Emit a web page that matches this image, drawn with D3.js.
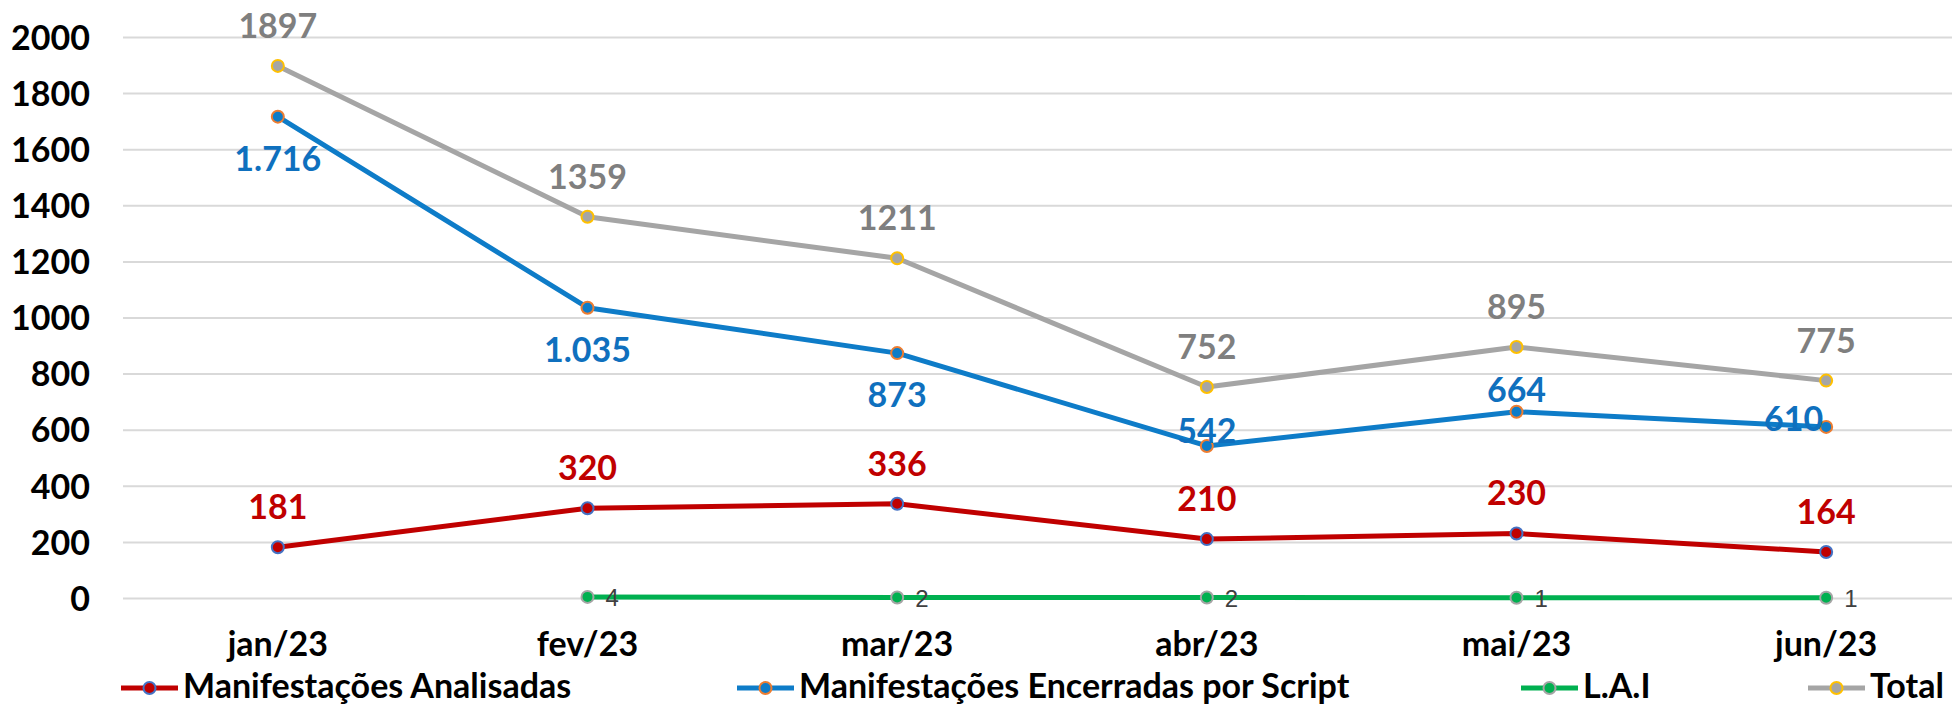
<!DOCTYPE html>
<html>
<head>
<meta charset="utf-8">
<script src="https://cdn.jsdelivr.net/npm/d3@7"></script>
<style>
  html, body { margin: 0; padding: 0; background: #fff; overflow: hidden; }
  svg { display: block; font-family: Lato, "Open Sans", sans-serif; }
</style>
</head>
<body>
<div id="chart"></div>
<script>
var months = ["jan/23", "fev/23", "mar/23", "abr/23", "mai/23", "jun/23"];
var analisadas = [181, 320, 336, 210, 230, 164];
var encerradas = [1716, 1035, 873, 542, 664, 610];
var lai = [null, 4, 2, 2, 1, 1];
var total = [1897, 1359, 1211, 752, 895, 775];
var yTicks = [0, 200, 400, 600, 800, 1000, 1200, 1400, 1600, 1800, 2000];
var legendNames = ["Manifestações Analisadas", "Manifestações Encerradas por Script", "L.A.I", "Total"];

function main() {
    var width = 1952,
      height = 705,
      fontSize = "34px";

    var svg = d3.select("#chart").append("svg").attr("width", width).attr("height", height);

    var x = d3.scaleBand().domain(months).range([123, 1981]);
    var y = d3.scaleLinear().domain([0, 2000]).range([598, 37]);
    var cx = function (i) { return x(months[i]) + x.bandwidth() / 2; };

    // gridlines + y labels
    var yAxis = d3.axisLeft(y).tickValues(yTicks).tickSize(-(width - 123)).tickPadding(33).tickFormat(d3.format("d"));
    var ga = svg.append("g").attr("transform", "translate(123,0)").call(yAxis);
    ga.select(".domain").remove();
    ga.selectAll(".tick line").attr("stroke", "#d9d9d9").attr("stroke-width", 2);
    ga.selectAll(".tick text").attr("fill", "#000").style("font-size", fontSize).style("font-weight", "bold")
      .style("font-family", "Lato").attr("dy", "0.36em");

    // x labels
    var gx = svg.append("g").attr("transform", "translate(0,598)")
      .call(d3.axisBottom(x).tickSize(0).tickPadding(0));
    gx.select(".domain").remove();
    gx.selectAll(".tick text").attr("fill", "#000").attr("y", 58).attr("dy", 0)
      .style("font-size", fontSize).style("font-weight", "bold").style("font-family", "Lato");

    var series = [
        { vals: analisadas, line: "#c00000", fill: "#c00000", ring: "#4472c4", label: "#c00000" },
        { vals: encerradas, line: "#0e7cc8", fill: "#0e7cc8", ring: "#ed7d31", label: "#0f70be" },
        { vals: lai, line: "#00b050", fill: "#00b050", ring: "#a5a5a5", label: "#404040" },
        { vals: total, line: "#a5a5a5", fill: "#a5a5a5", ring: "#ffc000", label: "#7f7f7f" }
    ];

    var line = d3.line()
      .defined(function (d) { return d != null; })
      .x(function (d, i) { return cx(i); })
      .y(function (d) { return y(d); });

    // draw order: total, encerradas, analisadas, lai
    [3, 1, 0, 2].forEach(function (k) {
        var s = series[k];
        var g = svg.append("g");
        g.append("path").datum(s.vals).attr("d", line)
          .attr("fill", "none").attr("stroke", s.line).attr("stroke-width", 5)
          .attr("stroke-linejoin", "round");
        g.selectAll("circle").data(s.vals.map(function (v, i) { return { v: v, i: i }; }).filter(function (d) { return d.v != null; }))
          .enter().append("circle")
          .attr("cx", function (d) { return cx(d.i); })
          .attr("cy", function (d) { return y(d.v); })
          .attr("r", 6)
          .attr("fill", s.fill).attr("stroke", s.ring).attr("stroke-width", 2);
    });

    // data labels
    var fmtBlue = function (v) { return v >= 1000 ? d3.format(",")(v).replace(",", ".") : String(v); };
    var blueSpot = ["below", "below", "below", "on", "near", "left"];

    function addLabels(s, fmt, place) {
        svg.append("g").selectAll("text")
          .data(s.vals.map(function (v, i) { return { v: v, i: i }; }).filter(function (d) { return d.v != null; }))
          .enter().append("text")
          .attr("fill", s.label)
          .style("font-size", fontSize).style("font-weight", "bold").style("font-family", "Lato")
          .each(function (d) {
              var p = place(d.i), t = d3.select(this), px = cx(d.i), py = y(d.v);
              var ax = "middle", ty = py - 28;
              if (p === "below") ty = py + 54;
              if (p === "on") ty = py - 3;
              if (p === "near") ty = py - 10;
              if (p === "left") { ax = "end"; px -= 3; ty = py + 4; }
              t.attr("x", px).attr("y", ty).attr("text-anchor", ax).text(fmt(d.v));
          });
    }
    addLabels(series[3], String, function () { return "above"; });
    addLabels(series[1], fmtBlue, function (i) { return blueSpot[i]; });
    addLabels(series[0], String, function () { return "above"; });

    svg.append("g").selectAll("text")
      .data(lai.map(function (v, i) { return { v: v, i: i }; }).filter(function (d) { return d.v != null; }))
      .enter().append("text")
      .attr("x", function (d) { return cx(d.i) + 18; })
      .attr("y", function (d) { return y(d.v); })
      .attr("dy", "0.38em")
      .attr("fill", "#404040")
      .style("font-size", "24px").style("font-family", "Liberation Sans, Arial, sans-serif")
      .text(function (d) { return d.v; });

    // legend
    var legendX = [121, 737, 1521, 1808];
    var lg = svg.append("g").selectAll("g").data(legendNames).enter().append("g")
      .attr("transform", function (d, i) { return "translate(" + legendX[i] + ",688)"; });
    lg.append("line").attr("x1", 0).attr("x2", 57).attr("y1", 0).attr("y2", 0)
      .attr("stroke", function (d, i) { return series[i].line; }).attr("stroke-width", 5);
    lg.append("circle").attr("cx", 28.5).attr("cy", 0).attr("r", 6)
      .attr("fill", function (d, i) { return series[i].fill; })
      .attr("stroke", function (d, i) { return series[i].ring; }).attr("stroke-width", 2);
    lg.append("text").attr("x", 62).attr("y", 10).attr("fill", "#000")
      .style("font-size", fontSize).style("font-weight", "bold").style("font-family", "Lato")
      .text(function (d) { return d; });
}

main();
</script>
</body>
</html>
